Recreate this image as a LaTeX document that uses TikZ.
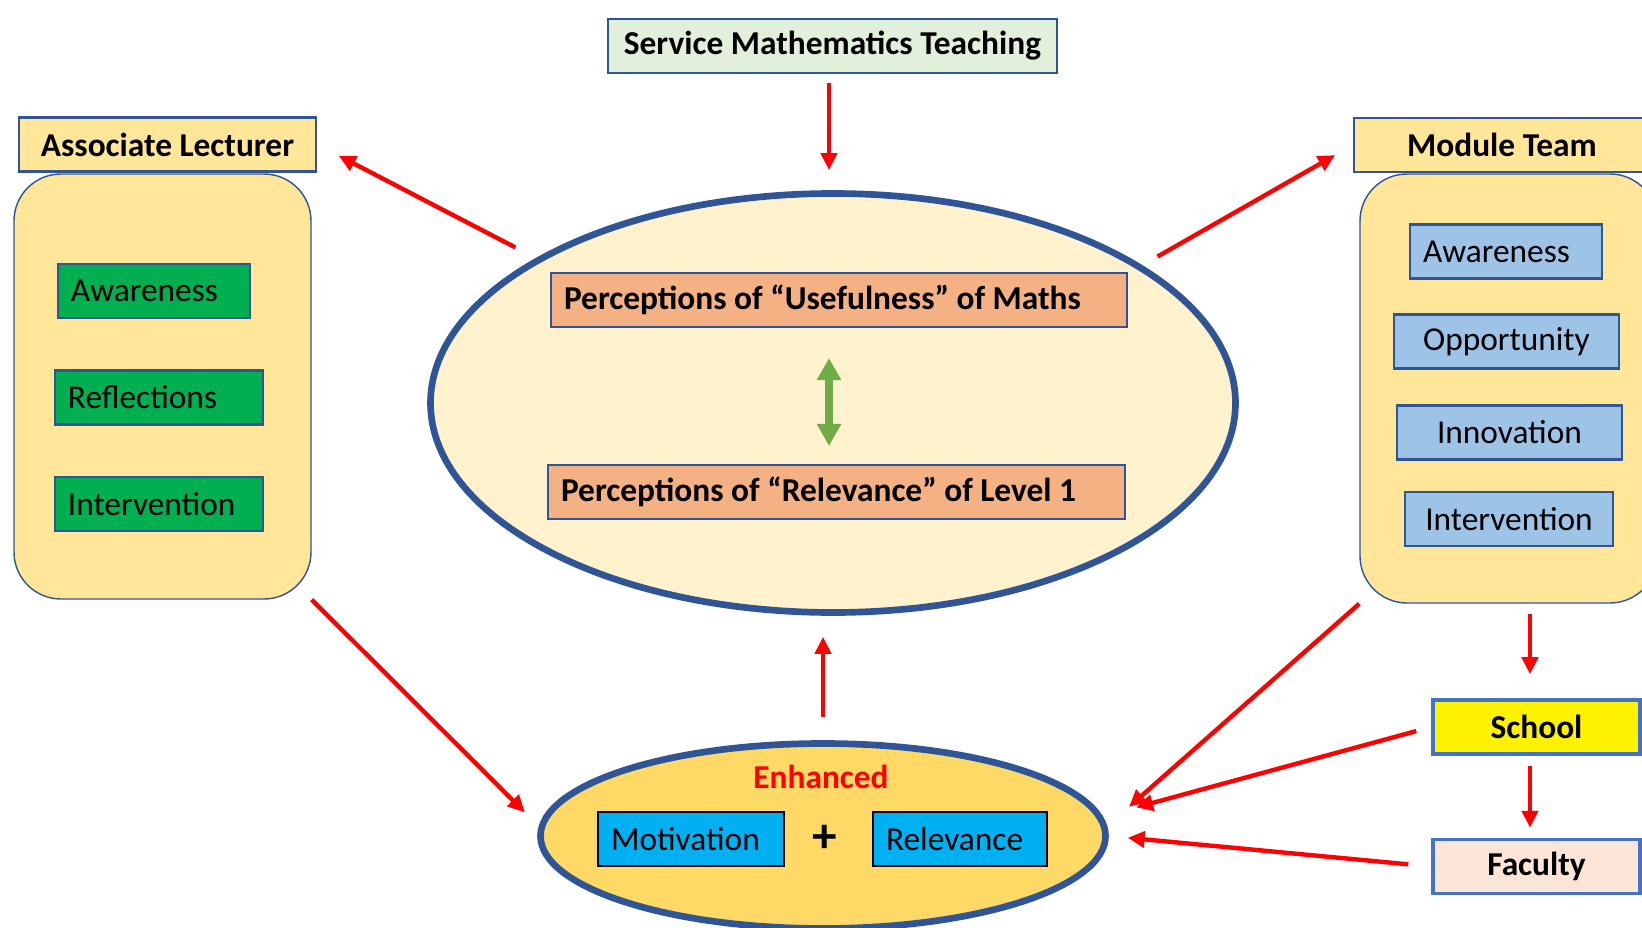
\documentclass[tikz,border=0pt]{standalone}
\usepackage{fontspec}
\setmainfont{Carlito}
\usetikzlibrary{arrows.meta,shapes.geometric}

\definecolor{darkframe}{HTML}{2F5597}
\definecolor{midframe}{HTML}{4472C4}
\definecolor{paleyellow}{HTML}{FFF2CC}
\definecolor{lightgold}{HTML}{FFE699}
\definecolor{deepgold}{HTML}{FFD966}
\definecolor{palegreen}{HTML}{E2EFDA}
\definecolor{boxgreen}{HTML}{00B050}
\definecolor{boxblue}{HTML}{9DC3E6}
\definecolor{salmon}{HTML}{F4B183}
\definecolor{cyanbox}{HTML}{00B0F0}
\definecolor{palepink}{HTML}{FBE5D6}
\definecolor{arrowgreen}{HTML}{70AD47}

\tikzset{
  txt/.style={font=\fontsize{19}{22}\selectfont},
  boldtxt/.style={font=\fontsize{19}{22}\selectfont\bfseries},
  headbox/.style={draw=darkframe, line width=1.2pt, fill=lightgold, minimum height=1.08cm, boldtxt},
  panel/.style={draw=darkframe, line width=0.8pt, fill=lightgold, rounded corners=0.94cm},
  itembox/.style={draw=darkframe, line width=1.2pt, minimum height=1.08cm, inner xsep=0.26cm, inner ysep=0pt, txt},
  leftitem/.style={itembox, text width=#1, align=flush left},
  redarrow/.style={draw=red, line width=2.5pt, -{Triangle[length=0.34cm,width=0.32cm]}},
  greenarrow/.style={draw=arrowgreen, line width=4pt,
    {Triangle[length=0.44cm,width=0.46cm]}-{Triangle[length=0.44cm,width=0.46cm]}},
}

\begin{document}
\begin{tikzpicture}
  \useasboundingbox (0,0) rectangle (32.84,-18.56);

  \node[headbox, fill=palegreen, minimum width=8.98cm] (service) at (16.65,-0.92) {Service Mathematics Teaching};

  % Associate Lecturer side
  \node[panel, minimum width=5.94cm, minimum height=8.50cm] (alpanel) at (3.25,-7.73) {};
  \node[headbox, minimum width=5.94cm] (alhead) at (3.35,-2.89) {Associate Lecturer};
  \node[leftitem=3.32cm, fill=boxgreen] (alaware) at (3.08,-5.82) {Awareness};
  \node[leftitem=3.64cm, fill=boxgreen] (alreflect) at (3.18,-7.95) {Reflections};
  \node[leftitem=3.64cm, fill=boxgreen] (alinterv) at (3.18,-10.08) {Intervention};

  % Module Team side
  \node[panel, minimum width=5.94cm, minimum height=8.58cm] (mtpanel) at (30.17,-7.77) {};
  \node[headbox, minimum width=5.92cm] (mthead) at (30.04,-2.90) {Module Team};
  \node[leftitem=3.32cm, fill=boxblue] (mtaware) at (30.12,-5.03) {Awareness};
  \node[itembox, fill=boxblue, minimum width=4.50cm] (mtoppor) at (30.13,-6.83) {Opportunity};
  \node[itembox, fill=boxblue, minimum width=4.50cm] (mtinnov) at (30.19,-8.65) {Innovation};
  \node[itembox, fill=boxblue, minimum width=4.16cm] (mtinterv) at (30.18,-10.38) {Intervention};

  % Perceptions
  \node[ellipse, draw=darkframe, line width=3.8pt, fill=paleyellow, minimum width=16.1cm, minimum height=8.38cm] (percep) at (16.66,-8.06) {};
  \node[leftitem=11.00cm, fill=salmon, boldtxt] (useful) at (16.78,-6.00) {Perceptions of “Usefulness” of Maths};
  \node[leftitem=11.02cm, fill=salmon, boldtxt] (relev) at (16.73,-9.84) {Perceptions of “Relevance” of Level 1};
  \draw[greenarrow, shorten <=0.60cm, shorten >=0.36cm] ([xshift=-0.2cm]useful.south) -- ([xshift=-0.2cm]useful.south |- relev.north);

  % Enhanced outcome
  \node[ellipse, draw=darkframe, line width=3.8pt, fill=deepgold, minimum width=11.3cm, minimum height=3.70cm] (enhanced) at (16.46,-16.72) {};
  \node[boldtxt, text=red] (enhlabel) at (16.42,-15.54) {Enhanced};
  \node[leftitem=3.20cm, draw=black, fill=cyanbox] (motiv) at (13.82,-16.78) {Motivation};
  \node[font=\fontsize{28}{32}\selectfont\bfseries] (plus) at (16.50,-16.78) {+};
  \node[leftitem=2.96cm, draw=black, fill=cyanbox] (relevance) at (19.20,-16.78) {Relevance};

  % School and Faculty
  \node[itembox, draw=midframe, line width=2pt, fill=yellow, minimum width=4.14cm, boldtxt] (school) at (30.73,-14.54) {School};
  \node[itembox, draw=midframe, line width=2pt, fill=palepink, minimum width=4.14cm, boldtxt] (faculty) at (30.73,-17.33) {Faculty};

  % Draw the influence arrows
  \draw[redarrow, shorten <=0.18cm, shorten >=0.40cm] ([xshift=-0.07cm]service.south) -- ([xshift=-0.07cm]service.south |- percep.north);
  \draw[redarrow, shorten <=0.46cm, shorten >=0.49cm] (percep.154) -- (alhead.east);
  \draw[redarrow, shorten <=0.35cm, shorten >=0.41cm] (percep.24) -- (mthead.west);
  \draw[redarrow, shorten >=0.39cm] (alpanel.south east) -- (enhanced.178);
  \draw[redarrow, shorten >=0.58cm] (mtpanel.south west) -- (enhanced.2);
  \draw[redarrow, shorten <=0.46cm, shorten >=0.42cm] (enhanced.north) -- (enhanced.north |- percep.south);
  \draw[redarrow, shorten <=0.20cm, shorten >=0.48cm] ([xshift=-0.13cm]school.north |- mtpanel.south) -- ([xshift=-0.13cm]school.north);
  \draw[redarrow, shorten <=0.20cm, shorten >=0.20cm] ([xshift=-0.13cm]school.south) -- ([xshift=-0.13cm]faculty.north);
  \draw[redarrow, shorten <=0.31cm, shorten >=0.69cm] (school.west) -- (enhanced.4);
  \draw[redarrow, shorten <=0.46cm, shorten >=0.38cm] (faculty.west) -- (enhanced.east);
\end{tikzpicture}
\end{document}
